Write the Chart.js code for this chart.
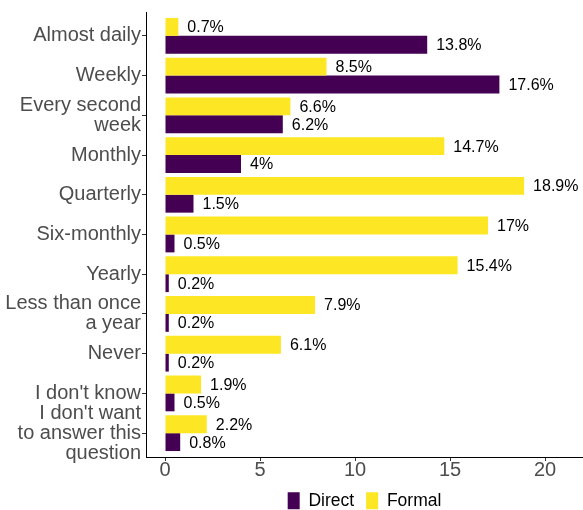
<!DOCTYPE html>
<html>
<head>
<meta charset="utf-8">
<script src="https://cdn.jsdelivr.net/npm/chart.js@4"></script>
<style>
    html, body { margin: 0; padding: 0; background: #fff; }
    #wrap { width: 583px; height: 510px; }
</style>
</head>
<body>
<div id="wrap"><canvas id="freqChart" width="583" height="510"></canvas></div>
<script>
const categories = [
    "Almost daily",
    "Weekly",
    ["Every second", "week"],
    "Monthly",
    "Quarterly",
    "Six-monthly",
    "Yearly",
    ["Less than once", "a year"],
    "Never",
    "I don't know",
    ["I don't want", "to answer this", "question"],
];
const formalValues = [0.7, 8.5, 6.6, 14.7, 18.9, 17, 15.4, 7.9, 6.1, 1.9, 2.2];
const directValues = [13.8, 17.6, 6.2, 4, 1.5, 0.5, 0.2, 0.2, 0.2, 0.5, 0.8];
const xTicks = [0, 5, 10, 15, 20];

const FONT = "'Liberation Sans', Arial, sans-serif";

// value labels at the end of each bar
const barLabels = {
    id: "barLabels",
    afterDatasetsDraw(chart) {
        const ctx = chart.ctx;
        ctx.save();
        ctx.font = "16px " + FONT;
        ctx.fillStyle = "#000";
        ctx.textAlign = "left";
        ctx.textBaseline = "middle";
        chart.data.datasets.forEach((ds, i) => {
            chart.getDatasetMeta(i).data.forEach((bar, j) => {
                ctx.fillText(ds.data[j] + "%", bar.x + 9, bar.y + 1);
            });
        });
        ctx.restore();
    },
};

// fix the legend height so the plot keeps its room
const legendHeight = {
    id: "legendHeight",
    beforeUpdate(chart) {
        const lg = chart.legend;
        if (lg && !lg._fixedFit) {
            const fit = lg.fit.bind(lg);
            lg.fit = function () {
                fit();
                this.height = 30;
            };
            lg._fixedFit = true;
        }
    },
};

new Chart(document.getElementById("freqChart"), {
    type: "bar",
    data: {
        labels: categories,
        datasets: [
            {
                label: "Formal",
                data: formalValues,
                backgroundColor: "#FDE725",
                borderWidth: 0,
                categoryPercentage: 0.9,
                barPercentage: 1,
            },
            {
                label: "Direct",
                data: directValues,
                backgroundColor: "#440154",
                borderWidth: 0,
                categoryPercentage: 0.9,
                barPercentage: 1,
            },
        ],
    },
    options: {
        indexAxis: "y",
        responsive: false,
        animation: false,
        layout: { padding: { top: 12, right: 0, left: 0, bottom: 0 } },
        plugins: {
            legend: {
                position: "bottom",
                fullSize: false,
                reverse: true,
                labels: {
                    boxWidth: 12,
                    boxHeight: 17,
                    padding: 12,
                    color: "#000",
                    font: { size: 17.5, family: FONT },
                },
            },
            tooltip: { enabled: false },
        },
        scales: {
            x: {
                min: -1,
                max: 22,
                afterBuildTicks: (scale) => {
                    scale.ticks = xTicks.map((v) => ({ value: v }));
                },
                afterFit: (scale) => {
                    scale.height = 23;
                    scale.paddingLeft = 0;
                    scale.paddingRight = 0;
                },
                grid: {
                    drawOnChartArea: false,
                    drawTicks: true,
                    tickLength: 4,
                    color: "#333",
                },
                border: { display: true, color: "#000", width: 1 },
                ticks: {
                    color: "#4d4d4d",
                    padding: 0,
                    font: { size: 20, family: FONT, lineHeight: 0.9 },
                },
            },
            y: {
                afterBuildTicks: (scale) => {
                    // ggplot-style 0.6 category padding at both ends
                    scale._startValue = -0.6;
                    scale._valueRange = categories.length + 0.2;
                },
                afterFit: (scale) => {
                    scale.width = 146;
                    scale.paddingTop = 0;
                    scale.paddingBottom = 0;
                },
                grid: {
                    offset: false,
                    drawOnChartArea: false,
                    drawTicks: true,
                    tickLength: 4,
                    color: "#333",
                },
                border: { display: true, color: "#000", width: 1 },
                ticks: {
                    color: "#4d4d4d",
                    padding: 1,
                    autoSkip: false,
                    font: { size: 20, family: FONT, lineHeight: 1.0 },
                },
            },
        },
    },
    plugins: [barLabels, legendHeight],
});
</script>
</body>
</html>
